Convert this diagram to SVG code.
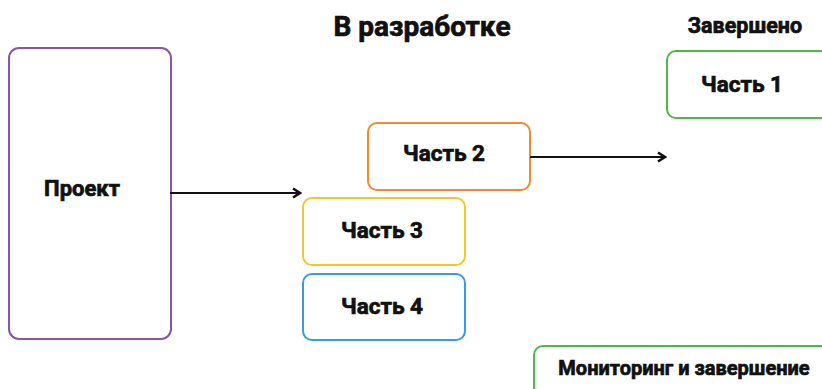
<svg xmlns="http://www.w3.org/2000/svg" width="822" height="389" viewBox="0 0 822 389">
<defs>
<marker id="arr" viewBox="0 0 12 12" refX="10" refY="6" markerWidth="12" markerHeight="12" markerUnits="userSpaceOnUse" orient="auto">
<path d="M3,1.5 L10,6 L3,10.5" fill="none" stroke="#111" stroke-width="2.6" stroke-linejoin="miter"/>
</marker>
<style>
.box{fill:#fff;stroke-width:2}
.t{font-family:Roboto,"Liberation Sans",sans-serif;font-weight:700;fill:#111;stroke:#111;stroke-width:0.7;text-anchor:middle}
.c{stroke:#111;stroke-width:2.2;fill:none}
</style>
</defs>
<rect width="822" height="389" fill="#fff"/>
<g id="header-dev"><text class="t" x="422" y="36" font-size="28">В разработке</text></g>
<g id="header-done"><text class="t" x="745" y="33" font-size="21.5">Завершено</text></g>
<g id="project">
<rect class="box" x="9" y="48" width="162" height="291" rx="10" stroke="#8a55a8"/>
<text class="t" x="82" y="196" font-size="22">Проект</text>
</g>
<g id="part1">
<rect class="box" x="667" y="51" width="162" height="67" rx="9" stroke="#4cb84c"/>
<text class="t" x="742" y="92" font-size="22.5">Часть 1</text>
</g>
<g id="part2">
<rect class="box" x="368" y="123" width="162" height="67" rx="9" stroke="#f08a2c"/>
<text class="t" x="444" y="161" font-size="22.5">Часть 2</text>
</g>
<g id="part3">
<rect class="box" x="303" y="198" width="162" height="67" rx="9" stroke="#f3c530"/>
<text class="t" x="382" y="238" font-size="22.5">Часть 3</text>
</g>
<g id="part4">
<rect class="box" x="303" y="274" width="162" height="66" rx="9" stroke="#3a9be0"/>
<text class="t" x="382" y="314" font-size="22.5">Часть 4</text>
</g>
<g id="monitoring">
<rect class="box" x="534" y="346" width="300" height="70" rx="9" stroke="#4cb84c"/>
<text class="t" x="684" y="375" font-size="20">Мониторинг и завершение</text>
</g>
<g id="connectors">
<line class="c" x1="170" y1="193" x2="300" y2="193" marker-end="url(#arr)"/>
<line class="c" x1="530" y1="157" x2="665" y2="157" marker-end="url(#arr)"/>
</g>
</svg>
